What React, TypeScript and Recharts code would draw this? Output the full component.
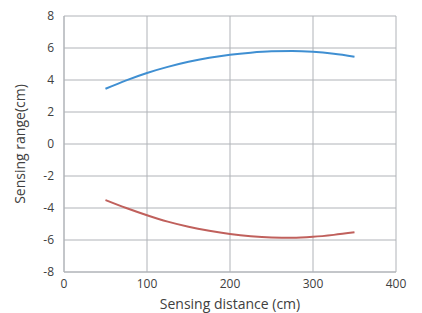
import { LineChart, Line, XAxis, YAxis, CartesianGrid, Label } from "recharts";

const distances = [50, 75, 100, 125, 150, 175, 200, 225, 250, 275, 300, 325, 350];
const upperRange = [3.45, 3.98, 4.44, 4.82, 5.14, 5.39, 5.58, 5.71, 5.79, 5.81, 5.76, 5.64, 5.46];
const lowerRange = [-3.5, -4.0, -4.45, -4.85, -5.17, -5.42, -5.62, -5.76, -5.84, -5.86, -5.8, -5.68, -5.52];
const xTicks = [0, 100, 200, 300, 400];
const yTicks = [-8, -6, -4, -2, 0, 2, 4, 6, 8];

const rows = distances.map((d, i) => ({ d, up: upperRange[i], low: lowerRange[i] }));

const font = "'Open Sans', sans-serif";
const grey = "#b0b3b8";

export default function App() {
  return (
    <div style={{ position: "absolute", left: 0, top: 0, background: "#fff" }}>
      <LineChart width={422} height={313} data={rows} margin={{ top: 16, right: 26, bottom: 11, left: 0 }}>
        <CartesianGrid stroke={grey} strokeWidth={1} />
        <XAxis
          dataKey="d"
          type="number"
          domain={[0, 400]}
          ticks={xTicks}
          height={30}
          tickLine={false}
          tickSize={0}
          tickMargin={7}
          axisLine={{ stroke: grey }}
          tick={{ fill: "#404040", fontSize: 12, fontFamily: font }}
        >
          <Label value="Sensing distance (cm)" position="bottom" offset={-3} fill="#404040" fontSize={14} fontFamily={font} />
        </XAxis>
        <YAxis
          type="number"
          domain={[-8, 8]}
          ticks={yTicks}
          width={64}
          tickLine={false}
          tickSize={0}
          tickMargin={10}
          axisLine={{ stroke: grey }}
          tick={{ fill: "#404040", fontSize: 12, fontFamily: font }}
        >
          <Label value="Sensing range(cm)" position="center" angle={-90} dx={-12} fill="#404040" fontSize={14} fontFamily={font} />
        </YAxis>
        <Line type="monotone" dataKey="up" stroke="#3f8fd2" strokeWidth={2} dot={false} isAnimationActive={false} />
        <Line type="monotone" dataKey="low" stroke="#c0605c" strokeWidth={2} dot={false} isAnimationActive={false} />
      </LineChart>
    </div>
  );
}
